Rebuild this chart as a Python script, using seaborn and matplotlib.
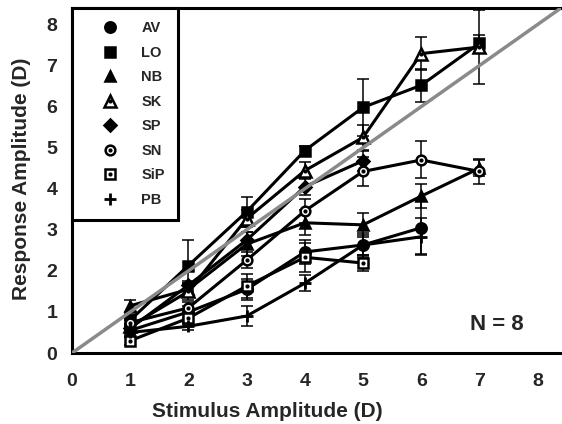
import numpy as np
import pandas as pd
import matplotlib
matplotlib.use("Agg")
import matplotlib.pyplot as plt
import seaborn as sns
from matplotlib.lines import Line2D
from matplotlib.legend_handler import HandlerTuple

# Stimulus levels (D) and mean responses (D) with error bars, per subject
subjects = ["AV", "LO", "NB", "SK", "SP", "SN", "SiP", "PB"]

av_stim = [1, 2, 3, 4, 5, 6]
av_resp = [0.55, 1.00, 1.55, 2.46, 2.63, 3.05]
av_err = [0.10, 0.15, 0.25, 0.30, 0.30, 0.65]

lo_stim = [1, 2, 3, 4, 5, 6, 7]
lo_resp = [0.80, 2.13, 3.44, 4.93, 5.98, 6.52, 7.54]
lo_err = [0.15, 0.62, 0.36, 0.10, 0.70, 0.40, 0.20]

nb_stim = [1, 2, 3, 4, 5, 6, 7]
nb_resp = [1.15, 1.55, 2.65, 3.17, 3.12, 3.82, 4.50]
nb_err = [0.15, 0.15, 0.30, 0.30, 0.30, 0.30, 0.20]

sk_stim = [1, 2, 3, 4, 5, 6, 7]
sk_resp = [0.65, 1.50, 3.27, 4.44, 5.25, 7.29, 7.45]
sk_err = [0.15, 0.20, 0.20, 0.20, 0.30, 0.40, 0.90]

sp_stim = [1, 2, 3, 4, 5]
sp_resp = [0.60, 1.65, 2.75, 4.05, 4.68]
sp_err = [0.10, 0.10, 0.20, 0.20, 0.25]

sn_stim = [1, 2, 3, 4, 5, 6, 7]
sn_resp = [0.74, 1.10, 2.26, 3.46, 4.42, 4.70, 4.42]
sn_err = [0.10, 0.15, 0.20, 0.30, 0.35, 0.45, 0.30]

sip_stim = [1, 2, 3, 4, 5]
sip_resp = [0.30, 0.85, 1.63, 2.33, 2.19]
sip_err = [0.10, 0.15, 0.30, 0.35, 0.20]

pb_stim = [1, 2, 3, 4, 5, 6]
pb_resp = [0.50, 0.65, 0.90, 1.70, 2.63, 2.83]
pb_err = [0.10, 0.10, 0.25, 0.20, 0.25, 0.45]

tick_values = [0, 1, 2, 3, 4, 5, 6, 7, 8]

data = {
    "AV": (av_stim, av_resp, av_err),
    "LO": (lo_stim, lo_resp, lo_err),
    "NB": (nb_stim, nb_resp, nb_err),
    "SK": (sk_stim, sk_resp, sk_err),
    "SP": (sp_stim, sp_resp, sp_err),
    "SN": (sn_stim, sn_resp, sn_err),
    "SiP": (sip_stim, sip_resp, sip_err),
    "PB": (pb_stim, pb_resp, pb_err),
}

# marker, open (white fill with centre dot), marker size
marker_style = {
    "AV": ("o", False, 7.5),
    "LO": ("s", False, 7),
    "NB": ("^", False, 7.5),
    "SK": ("^", True, 9),
    "SP": ("D", False, 6.5),
    "SN": ("o", True, 7),
    "SiP": ("s", True, 6.5),
    "PB": ("+", False, 8),
}

sns.set_style("white")
plt.rcParams["font.family"] = ["Liberation Sans", "DejaVu Sans"]
plt.rcParams["font.weight"] = "bold"

fig = plt.figure(figsize=(5.62, 4.24), dpi=100)
ax = fig.add_axes([72 / 562, 71 / 424, 489 / 562, 345 / 424])

for name in subjects:
    x, y, e = data[name]
    m, is_open, ms = marker_style[name]
    df = pd.DataFrame({"stim": x, "resp": y})
    ax.errorbar(x, y, yerr=e, fmt="none", ecolor="black", elinewidth=1.1,
                capsize=4.0, capthick=1.1, zorder=2)
    sns.lineplot(data=df, x="stim", y="resp", ax=ax, color="black",
                 linewidth=2.2, marker=m, markersize=ms,
                 markerfacecolor="white" if is_open else "black",
                 markeredgecolor="black",
                 markeredgewidth=2.0 if m == "+" else 1.8,
                 errorbar=None, zorder=3)
    if is_open:
        ax.plot(x, y, ls="none", marker="o", ms=2, color="black", zorder=6)

# line of unity
ax.axline((0, 0), slope=1, color="#8a8a8a", linewidth=2.5, zorder=4)

ax.set_xlim(0, 8.4)
ax.set_ylim(0, 8.4)
ax.set_xticks(tick_values)
ax.set_yticks(tick_values)
ax.tick_params(axis="both", direction="out", length=3.6, width=1.2,
               labelsize=14, color="black")
ax.tick_params(axis="x", pad=11)
ax.tick_params(axis="y", pad=7)
for lab in ax.get_xticklabels() + ax.get_yticklabels():
    lab.set_fontweight("bold")

for side in ["top", "left", "bottom"]:
    ax.spines[side].set_color("black")
    ax.spines[side].set_linewidth(2.2)
ax.spines["right"].set_visible(False)

ax.set_xlabel("Stimulus Amplitude (D)", fontsize=15, fontweight="bold")
ax.set_ylabel("Response Amplitude (D)", fontsize=15, fontweight="bold")
ax.xaxis.set_label_coords(0.40, -0.142)
ax.yaxis.set_label_coords(-0.084, 0.505)

ax.text(7.29, 0.69, "N = 8", fontsize=16, fontweight="bold",
        ha="center", va="center")

handles = []
for name in subjects:
    m, is_open, ms = marker_style[name]
    h = Line2D([], [], ls="none", marker=m, markersize=ms,
               markerfacecolor="white" if is_open else "black",
               markeredgecolor="black",
               markeredgewidth=2.0 if m == "+" else 1.8)
    if is_open:
        dot = Line2D([], [], ls="none", marker="o", ms=2, color="black")
        handles.append((h, dot))
    else:
        handles.append(h)

leg = ax.legend(handles, subjects, loc="upper left", bbox_to_anchor=(0, 1),
                borderaxespad=0, frameon=True, fancybox=False,
                edgecolor="black", framealpha=1, fontsize=10.5,
                handlelength=3.4, handletextpad=0.45, labelspacing=0.72,
                borderpad=0.9,
                handler_map={tuple: HandlerTuple(ndivide=1)})
leg.get_frame().set_linewidth(2.2)
leg.set_zorder(10)

fig.savefig("out.png", dpi=100)
